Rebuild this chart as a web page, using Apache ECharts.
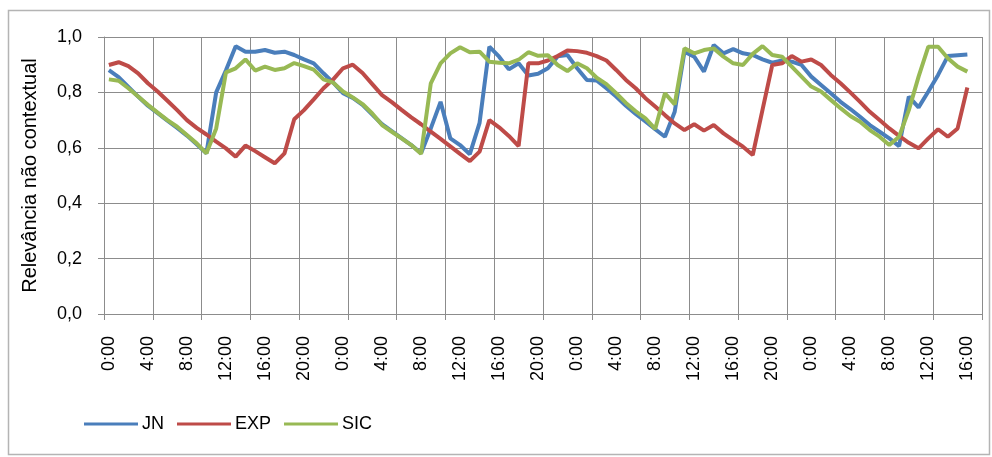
<!DOCTYPE html>
<html>
<head>
<meta charset="utf-8">
<script src="https://cdn.jsdelivr.net/npm/echarts@6/dist/echarts.min.js"></script>
<style>html,body{margin:0;padding:0;background:#fff;}#c{width:992px;height:457px;}</style>
</head>
<body>
<div id="c"></div>
<script>
// hourly categories: 0:00 .. 17:00 of the 4th day (90 slots)
const categories = [];
for (let i = 0; i < 90; i++) categories.push((i % 24) + ':00');

const yTicks = [0, 0.2, 0.4, 0.6, 0.8, 1.0];

const jn = [0.88,0.855,0.82,0.785,0.752,0.725,0.698,0.672,0.644,0.613,
0.58,0.80,0.88,0.967,0.947,0.947,0.953,0.943,0.947,0.935,
0.919,0.905,0.869,0.835,0.797,0.78,0.755,0.72,0.685,0.66,
0.635,0.61,0.58,0.67,0.766,0.634,0.61,0.577,0.69,0.965,
0.929,0.883,0.905,0.861,0.867,0.887,0.93,0.935,0.887,0.845,
0.843,0.815,0.785,0.752,0.722,0.695,0.667,0.64,0.73,0.947,
0.929,0.875,0.971,0.941,0.956,0.941,0.935,0.919,0.907,0.915,
0.911,0.899,0.857,0.827,0.797,0.766,0.74,0.712,0.682,0.658,
0.634,0.606,0.785,0.746,0.803,0.863,0.931,0.934,0.937];

const exp = [0.899,0.909,0.895,0.869,0.833,0.803,0.77,0.736,0.70,0.672,
0.648,0.622,0.598,0.568,0.608,0.588,0.566,0.544,0.58,0.703,
0.736,0.775,0.815,0.847,0.887,0.90,0.87,0.83,0.79,0.765,
0.737,0.71,0.685,0.658,0.632,0.605,0.578,0.552,0.586,0.70,
0.674,0.643,0.606,0.905,0.905,0.915,0.931,0.951,0.949,0.943,
0.931,0.915,0.881,0.845,0.815,0.779,0.749,0.718,0.688,0.664,
0.685,0.662,0.682,0.652,0.628,0.604,0.574,0.737,0.899,0.905,
0.931,0.911,0.919,0.899,0.863,0.833,0.80,0.766,0.73,0.70,
0.67,0.643,0.618,0.598,0.634,0.667,0.64,0.67,0.818];

const sic = [0.847,0.842,0.815,0.785,0.755,0.727,0.70,0.676,0.646,0.616,
0.58,0.67,0.872,0.887,0.919,0.879,0.893,0.881,0.887,0.906,
0.895,0.882,0.847,0.835,0.803,0.782,0.758,0.724,0.682,0.658,
0.634,0.61,0.578,0.833,0.905,0.941,0.963,0.945,0.947,0.911,
0.907,0.905,0.918,0.945,0.932,0.934,0.899,0.877,0.905,0.887,
0.853,0.83,0.797,0.762,0.732,0.706,0.668,0.797,0.757,0.959,
0.941,0.953,0.959,0.929,0.905,0.899,0.939,0.967,0.935,0.929,
0.893,0.857,0.821,0.803,0.773,0.743,0.715,0.694,0.664,0.64,
0.61,0.64,0.736,0.857,0.965,0.965,0.923,0.893,0.875];

const FONT = 'Liberation Sans';
const GRID = '#8C8C8C';

const chart = echarts.init(document.getElementById('c'), null, {renderer: 'canvas'});
chart.setOption({
  animation: false,
  backgroundColor: '#fff',
  textStyle: {fontFamily: FONT},
  graphic: [{
    type: 'rect', silent: true, z: -1,
    shape: {x: 8.5, y: 10.5, width: 981, height: 444},
    style: {fill: 'none', stroke: '#B4B4B4', lineWidth: 1.5}
  }],
  grid: {left: 104, right: 10, top: 37, bottom: 143, containLabel: false},
  legend: {
    left: 79, top: 410,
    itemWidth: 54, itemHeight: 3, itemGap: 13,
    icon: 'rect',
    textStyle: {fontFamily: FONT, fontSize: 18, color: '#000', padding: [0, 0, 0, -1]},
    data: ['JN', 'EXP', 'SIC']
  },
  xAxis: {
    type: 'category',
    data: categories,
    boundaryGap: true,
    axisLine: {show: true, lineStyle: {color: GRID, width: 1}},
    axisTick: {show: true, interval: 4, length: 6, lineStyle: {color: GRID}},
    splitLine: {show: true, interval: 4, lineStyle: {color: GRID, width: 1}},
    axisLabel: {interval: 3, rotate: 90, margin: 22, fontSize: 18, color: '#000', fontFamily: FONT}
  },
  yAxis: {
    type: 'value',
    min: yTicks[0], max: yTicks[yTicks.length - 1], interval: 0.2,
    name: 'Relevância não contextual',
    nameLocation: 'middle',
    nameGap: 64,
    nameTextStyle: {fontFamily: FONT, fontSize: 20, color: '#000'},
    axisLine: {show: true, lineStyle: {color: GRID, width: 1}},
    axisTick: {show: true, length: 6, lineStyle: {color: GRID}},
    splitLine: {show: true, lineStyle: {color: GRID, width: 1}},
    axisLabel: {margin: 22, fontSize: 18, color: '#000', fontFamily: FONT,
      formatter: v => v.toFixed(1).replace('.', ',')}
  },
  series: [
    {name: 'JN', type: 'line', data: jn, showSymbol: false, symbol: 'none',
      lineStyle: {color: '#4A7EBB', width: 4}, itemStyle: {color: '#4A7EBB'}},
    {name: 'EXP', type: 'line', data: exp, showSymbol: false, symbol: 'none',
      lineStyle: {color: '#BE4B48', width: 4}, itemStyle: {color: '#BE4B48'}},
    {name: 'SIC', type: 'line', data: sic, showSymbol: false, symbol: 'none',
      lineStyle: {color: '#98B954', width: 4}, itemStyle: {color: '#98B954'}}
  ]
});
</script>
</body>
</html>
